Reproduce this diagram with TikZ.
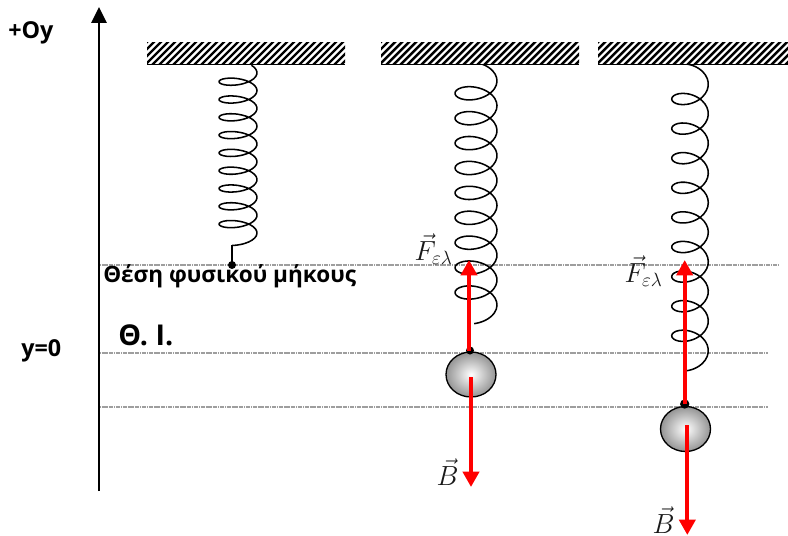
\documentclass[tikz,border=0pt]{standalone}
\usepackage{fontspec}
\setmainfont{Open Sans}
\usetikzlibrary{arrows.meta,shapes.geometric}
\tikzset{
  px/.style={x=0.75pt,y=-0.75pt},
  guide/.style={draw=black!38,line width=0.8pt,dash pattern=on 1pt off 0.3pt},
  axisline/.style={draw=black,line width=1.5pt,-{Triangle[length=12pt,width=11.5pt]}},
  coil/.style={draw=black,line width=1.15pt},
  rod/.style={draw=black,line width=1.5pt},
  force/.style={draw=red,line width=3pt,-{Triangle[length=11.5pt,width=12pt]}},
  pin/.style={circle,fill=black,inner sep=0pt,minimum size=6pt},
  pinb/.style={circle,fill=black,inner sep=0pt,minimum size=7pt},
  ball/.style={ellipse,draw=black,line width=1pt,inner sep=0pt,minimum width=37.5pt,minimum height=33.75pt,inner color=white,outer color=black!42},
  lab/.style={font=\fontsize{17.5}{20}\selectfont\bfseries,inner sep=0pt,anchor=base west},
  mathlab/.style={font=\fontsize{20}{22}\selectfont,inner sep=0pt,text=black!90},
}
% #1 x-left #2 x-right of ceiling bar (all in px)
\newcommand{\ceilingbar}[2]{%
  \begin{scope}
    \clip (#1,43) rectangle (#2,64);
    \fill[white] (#1,43) rectangle (#2,64);
    \foreach \h in {0,7,...,224}{
      \draw[black,line width=1.85pt] ({#1+\h-24},66) -- ++(26,-26);
    }
  \end{scope}
  \draw[black,line width=1pt] (#1,64.6) -- (#2,64.6);
}
% #1 centre x, #2 half width, #3 y0, #4 pitch, #5 B, #6 t start, #7 t end
\newcommand{\coilpath}[7]{%
  \draw[coil,line join=round] plot[smooth,samples=260,domain=#6:#7,variable=\t]
    ({#1+#2*cos(\t)},{#3+#4*(\t/360)+#5*sin(\t)});
}
\begin{document}
\begin{tikzpicture}[px]
\useasboundingbox (0,0) rectangle (788,535);
% guides
\coordinate (g1l) at (100,265); \coordinate (g1r) at (778,265);
\coordinate (g2l) at (100,353); \coordinate (g2r) at (768,353);
\coordinate (g3l) at (100,407); \coordinate (g3r) at (768,407);
\draw[guide] (g1l) -- (g1r);
\draw[guide] (g2l) -- (g2r);
\draw[guide] (g3l) -- (g3r);
% axis
\coordinate (axb) at (99,491); \coordinate (axt) at (99,7);
\draw[axisline] (axb) -- (axt);
% springs
\coilpath{238}{19}{72.8}{17.8}{7.5}{-45}{3348}
\coilpath{476}{21}{80.85}{24.9}{12.2}{-90}{3335}
\coilpath{690}{18.3}{84.2}{29.6}{12.1}{-100}{3340}
% ceilings
\ceilingbar{147}{345}
\ceilingbar{381}{579}
\ceilingbar{598}{788}
% spring 1 end
\coordinate (s1e) at (232,245);
\node[pin] (d1) at (232,265) {};
\draw[rod] (s1e) -- (d1.center);
% balls
\node[ball] (b2) at (471,374.5) {};
\node[ball] (b3) at (685.5,429) {};
\node[pin] (d2) at (470,350.5) {};
\node[pinb] (d3) at (684.7,404) {};
% forces
\coordinate (f2s) at (469,351); \coordinate (f2) at (469,260); \coordinate (w2s) at (471,377); \coordinate (w2) at (471,487);
\coordinate (f3) at (684.7,260); \coordinate (w3s) at (687.3,425); \coordinate (w3) at (687.3,535);
\draw[force] (f2s) -- (f2);
\draw[force] (w2s) -- (w2);
\draw[force] (d3.center) -- (f3);
\draw[force] (w3s) -- (w3);
% labels
\node[lab] (oy) at (8,39) {+Oy};
\node[lab] (y0) at (21,356.5) {y=0};
\node[lab,font=\fontsize{21.5}{24}\selectfont\bfseries] (ti) at (118,345) {Θ. Ι.};
\node[lab,font=\fontsize{16.9}{20}\selectfont\bfseries] (fm) at (103,282.7) {Θέση φυσικού μήκους};
\node[mathlab] (fe2) at (433.5,249) {$\vec{F}_{\varepsilon\lambda}$};
\node[mathlab] (fe3) at (643.5,271.5) {$\vec{F}_{\varepsilon\lambda}$};
\node[mathlab] (bb2) at (447.5,472) {$\vec{B}$};
\node[mathlab] (bb3) at (663.5,520) {$\vec{B}$};
\end{tikzpicture}
\end{document}
